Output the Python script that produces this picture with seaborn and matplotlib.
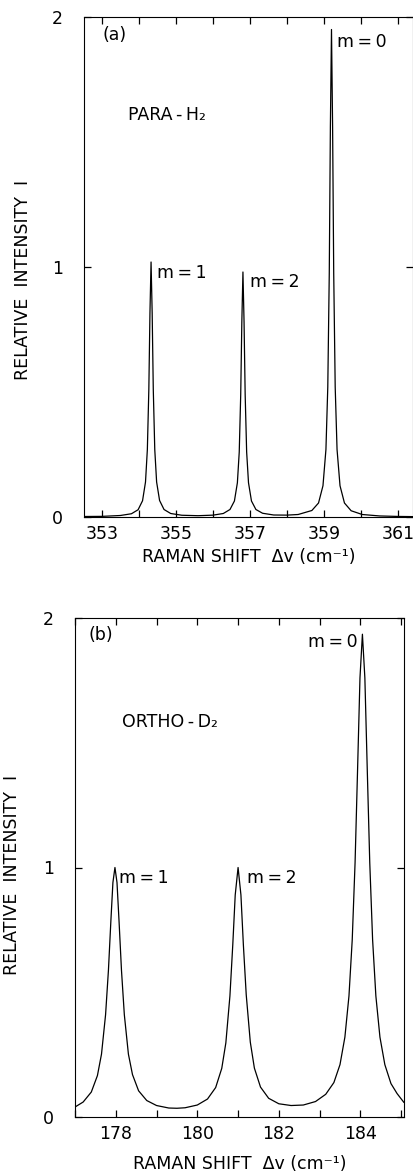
import numpy as np
import pandas as pd
import matplotlib
matplotlib.use("Agg")
import matplotlib.pyplot as plt
import seaborn as sns

# ---------------- data ----------------
# (a) PARA-H2
para_shift = [352.52, 353.0, 353.5, 353.8, 353.98, 354.1, 354.18, 354.23, 354.27, 354.3,
              354.33, 354.36, 354.39, 354.43, 354.48, 354.56, 354.68, 354.86, 355.16, 355.6,
              356.0, 356.28, 356.46, 356.58, 356.66, 356.71, 356.75, 356.78, 356.81, 356.84,
              356.87, 356.91, 356.96, 357.04, 357.16, 357.34, 357.64, 358.0, 358.3, 358.67,
              358.85, 358.97, 359.05, 359.1, 359.14, 359.17, 359.2, 359.23, 359.26, 359.3,
              359.35, 359.43, 359.55, 359.73, 360.03, 360.5, 361.0, 361.4]
para_int = [0.002, 0.0025, 0.006, 0.013, 0.029, 0.065, 0.14, 0.27, 0.51, 0.816,
            1.02, 0.816, 0.51, 0.27, 0.14, 0.066, 0.030, 0.014, 0.007, 0.0052,
            0.0074, 0.014, 0.030, 0.064, 0.137, 0.26, 0.49, 0.78, 0.98, 0.78,
            0.49, 0.26, 0.137, 0.064, 0.030, 0.015, 0.008, 0.0075, 0.010, 0.026,
            0.056, 0.125, 0.27, 0.52, 0.975, 1.56, 1.95, 1.56, 0.975, 0.52,
            0.27, 0.125, 0.056, 0.025, 0.010, 0.0042, 0.0022, 0.0015]

# (b) ORTHO-D2
ortho_shift = [177.0, 177.2, 177.4, 177.55, 177.65, 177.75, 177.82, 177.88, 177.93, 177.98,
               178.03, 178.08, 178.14, 178.21, 178.31, 178.41, 178.56, 178.76, 179.0, 179.3,
               179.5, 179.7, 180.0, 180.25, 180.45, 180.6, 180.7, 180.8, 180.87, 180.93,
               181.0, 181.07, 181.13, 181.2, 181.3, 181.4, 181.55, 181.75, 182.0, 182.3,
               182.6, 182.9, 183.15, 183.35, 183.5, 183.62, 183.72, 183.8, 183.87, 183.93,
               183.99, 184.05, 184.11, 184.17, 184.23, 184.3, 184.38, 184.48, 184.6, 184.75,
               184.9, 185.07]
ortho_int = [0.040, 0.060, 0.10, 0.166, 0.252, 0.41, 0.588, 0.786, 0.94, 1.0,
             0.94, 0.786, 0.588, 0.41, 0.252, 0.17, 0.105, 0.066, 0.046, 0.036,
             0.035, 0.037, 0.048, 0.072, 0.118, 0.195, 0.297, 0.485, 0.69, 0.89,
             1.0, 0.89, 0.69, 0.49, 0.30, 0.196, 0.12, 0.075, 0.053, 0.046,
             0.048, 0.062, 0.091, 0.138, 0.21, 0.32, 0.485, 0.71, 1.02, 1.385,
             1.76, 1.935, 1.76, 1.385, 1.02, 0.71, 0.485, 0.32, 0.21, 0.134,
             0.094, 0.058]

para_major = [353, 355, 357, 359, 361]
para_minor = [354, 356, 358, 360]
ortho_major = [178, 180, 182, 184]
ortho_minor = [177, 179, 181, 183, 185]
y_ticks = [0, 1, 2]
y_ticklabels = ["0", "1", "2"]

# ---------------- style ----------------
sns.set_style("ticks")
plt.rcParams['font.family'] = ['DejaVu Sans']
plt.rcParams['text.color'] = 'black'
plt.rcParams['axes.labelcolor'] = 'black'
plt.rcParams['xtick.color'] = 'black'
plt.rcParams['ytick.color'] = 'black'

FS = 12.5
TS = "\u2009"
fig = plt.figure(figsize=(4.14, 11.75), dpi=100)
ax_a = fig.add_axes([84 / 414, (1175 - 517) / 1175, 329 / 414, 500 / 1175])
ax_b = fig.add_axes([75 / 414, (1175 - 1117) / 1175, 329 / 414, 499 / 1175])

df_a = pd.DataFrame({"shift": para_shift, "intensity": para_int})
df_b = pd.DataFrame({"shift": ortho_shift, "intensity": ortho_int})
sns.lineplot(data=df_a, x="shift", y="intensity", ax=ax_a, color="black",
             linewidth=0.9, estimator=None, sort=False)
sns.lineplot(data=df_b, x="shift", y="intensity", ax=ax_b, color="black",
             linewidth=0.9, estimator=None, sort=False)


def style(ax, xlim, major, minor, xlabel_pad):
    ax.set_xlim(*xlim)
    ax.set_ylim(0, 2)
    ax.set_xticks(major)
    ax.set_xticklabels([str(v) for v in major])
    ax.set_xticks(minor, minor=True)
    ax.set_yticks(y_ticks)
    ax.set_yticklabels(y_ticklabels)
    for s in ax.spines.values():
        s.set_visible(True)
        s.set_linewidth(0.8)
        s.set_color("black")
    ax.tick_params(axis="both", which="both", direction="in", length=5, width=0.9,
                   top=True, right=True, colors="black", labelsize=FS)
    ax.tick_params(axis="x", which="both", pad=6)
    ax.tick_params(axis="y", which="both", pad=15)
    ax.set_xlabel("RAMAN SHIFT  Δv (cm⁻¹)", fontsize=FS, labelpad=xlabel_pad, color="black")
    ax.set_ylabel("RELATIVE  INTENSITY  I", fontsize=FS, color="black")


style(ax_a, (352.52, 361.4), para_major, para_minor, 3.5)
style(ax_b, (177.0, 185.07), ortho_major, ortho_minor, 8.5)
ax_a.yaxis.set_label_coords(-0.158, 0.474)
ax_b.yaxis.set_label_coords(-0.165, 0.485)

# annotations (a)
kw = dict(fontsize=FS, va="center", color="black")
ax_a.text(0.055, 0.964, "(a)", transform=ax_a.transAxes, ha="left", **kw)
ax_a.text(0.134, 0.804, f"PARA{TS}-{TS}H₂", transform=ax_a.transAxes, ha="left", **kw)
ax_a.text(0.769, 0.95, f"m{TS}={TS}0", transform=ax_a.transAxes, ha="left", **kw)
ax_a.text(0.222, 0.488, f"m{TS}={TS}1", transform=ax_a.transAxes, ha="left", **kw)
ax_a.text(0.505, 0.47, f"m{TS}={TS}2", transform=ax_a.transAxes, ha="left", **kw)

# annotations (b)
ax_b.text(0.04, 0.966, "(b)", transform=ax_b.transAxes, ha="left", **kw)
ax_b.text(0.143, 0.792, f"ORTHO{TS}-{TS}D₂", transform=ax_b.transAxes, ha="left", **kw)
ax_b.text(0.86, 0.952, f"m{TS}={TS}0", transform=ax_b.transAxes, ha="right", **kw)
ax_b.text(0.134, 0.479, f"m{TS}={TS}1", transform=ax_b.transAxes, ha="left", **kw)
ax_b.text(0.523, 0.479, f"m{TS}={TS}2", transform=ax_b.transAxes, ha="left", **kw)

fig.savefig("out.png", dpi=100, facecolor="white")
